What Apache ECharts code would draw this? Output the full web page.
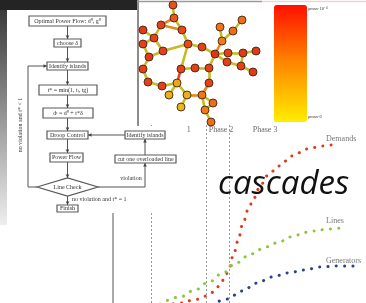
<!DOCTYPE html>
<html><head><meta charset="utf-8">
<script src="https://cdn.jsdelivr.net/npm/echarts@6/dist/echarts.min.js"></script>
<style>html,body{margin:0;padding:0;background:#fff}#c{width:366px;height:303px}</style>
</head><body><div id="c"></div>
<script>
// ---- cascade curves (x: time units 0..100, y: share 0..100) ----
const demandsX = [20.6, 26.5, 32.8, 36.8, 39.9, 42.3, 44.3, 45.9, 47.6, 49.4, 51.2, 53.4, 55.5, 57.8, 60.9, 65.6, 70.8, 76.7, 82.6, 86.2];
const demandsY = [-1.7, 0.0, 2.0, 3.9, 6.2, 10.1, 14.6, 19.7, 27.0, 34.8, 44.0, 52.3, 58.5, 64.5, 71.4, 77.0, 82.6, 86.5, 88.2, 88.8];
const linesX = [18.6, 26.5, 32.4, 37.9, 43.5, 48.6, 54.5, 60.5, 66.4, 72.3, 78.7, 85.4, 92.1];
const linesY = [-0.6, 3.4, 7.3, 11.8, 16.9, 22.5, 27.5, 31.5, 34.8, 38.2, 40.4, 41.6, 42.7];
const genX = [39.1, 45.1, 51.0, 56.9, 62.8, 69.2, 75.5, 81.8, 88.5, 94.9];
const genY = [-1.1, 2.2, 6.7, 11.2, 14.6, 16.9, 18.5, 20.2, 20.8, 20.8];
const curveNames = ['Demands', 'Lines', 'Generators'];
const curveLabelX = [84.2, 84.2, 84.2];
const curveLabelY = [92.1, 46.1, 23.6];
const phaseLabels = ['Phase 1', 'Phase 2', 'Phase 3'];
const phaseLabelX = [25.9, 42.7, 60.1];
const phaseLabelY = [97.2, 97.2, 97.2];
const phaseLineX = [15.0, 36.8, 45.8];

// ---- network (x,y in panel units, load 0..1) ----
const nodeX = [36,37,24,45,6,17,6,26,12,51,65,78,83,96,105,85,91,106,119,90,104,116,6,44,58,72,72,11,25,40,32,50,44,65,76,68,74];
const nodeY = [5,18,25,30,30,38,44,51,57,44,47,54,27,31,20,41,53,53,51,62,66,72,69,69,68,68,83,82,86,83,95,95,107,95,103,110,122];
const nodeLoad = [0.8,0.75,0.9,0.85,0.95,0.9,0.9,0.9,0.95,0.85,0.9,1.0,0.55,0.6,0.6,0.5,0.9,0.95,0.95,0.9,0.9,0.95,0.9,0.9,0.9,0.9,0.9,0.9,0.9,0.25,0.2,0.2,0.15,0.55,0.6,0.5,0.6];
const edgeFrom = [0,1,1,2,2,3,4,5,5,6,8,7,9,10,8,22,27,28,29,23,23,24,25,25,26,29,29,31,31,33,33,34,35,11,15,15,13,11,16,17,11,19,20,20];
const edgeTo   = [1,2,3,3,5,9,5,6,7,8,7,9,10,11,22,27,28,29,23,9,24,25,11,26,33,30,31,32,33,34,35,35,36,15,12,13,14,16,17,18,19,20,17,21];
const edgeLevel= [0,1,0,1,0,0,0,0,0,0,0,0,0,0,0,0,0,0,2,0,0,0,0,0,1,0,0,0,1,0,0,0,0,1,0,0,0,0,0,0,0,0,0,0];
const colorbarText = ['ρmax·10⁻⁴', 'ρmax·0'];

// ---- flowchart & decoration graphics ----
const G = [];
const SERIF = '"Liberation Serif", serif';
function rect(x, y, w, h, fill, z) { G.push({type:'rect', silent:true, z, shape:{x, y, width:w, height:h}, style:{fill}}); }
function txt(x, y, t, align, rot, size, z) {
  align = align || 'center';
  G.push({type:'text', silent:true, z: z || 13, x, y, rotation: rot || 0,
    style:{text:t, x:0, y:0, fill:'#333', font:(size||6)+'px ' + SERIF,
      align, verticalAlign:'middle', textAlign:align, textVerticalAlign:'middle'}});
}
function box(x1, y1, x2, y2, t) {
  G.push({type:'rect', silent:true, z:12, shape:{x:x1, y:y1, width:x2-x1, height:y2-y1},
    style:{fill:'#fff', stroke:'#5a5a5a', lineWidth:1.2}});
  txt((x1+x2)/2, (y1+y2)/2 + 0.3, t);
}
function line(pts, arrow) {
  G.push({type:'polyline', silent:true, z:11, shape:{points:pts}, style:{stroke:'#555', lineWidth:1, fill:null}});
  if (arrow) {
    const [x2, y2] = pts[pts.length-1], [x1, y1] = pts[pts.length-2];
    const a = Math.atan2(y2-y1, x2-x1), L = 3.5, W = 1.8;
    G.push({type:'polygon', silent:true, z:12, shape:{points:[[x2,y2],
      [x2-L*Math.cos(a)+W*Math.sin(a), y2-L*Math.sin(a)-W*Math.cos(a)],
      [x2-L*Math.cos(a)-W*Math.sin(a), y2-L*Math.sin(a)+W*Math.cos(a)]]}, style:{fill:'#444'}});
  }
}
// background pieces
rect(137, 0, 229, 126, '#fff', 1);
G.push({type:'polyline', silent:true, z:1, shape:{points:[[138,0],[138,126]]}, style:{stroke:'#8c8c8c', lineWidth:2}});
G.push({type:'polyline', silent:true, z:1, shape:{points:[[137,1.5],[262,1.5]]}, style:{stroke:'#9a9a9a', lineWidth:1.5}});
G.push({type:'polyline', silent:true, z:1, shape:{points:[[262,1.5],[366,1.5]]}, style:{stroke:'#f0d4d4', lineWidth:1.5}});
rect(0, 0, 137, 10, '#242424', 10);
G.push({type:'rect', silent:true, z:10, shape:{x:0, y:10, width:7, height:215},
  style:{fill:{type:'linear', x:0, y:0, x2:0, y2:1, colorStops:[{offset:0, color:'#3a3a3a'},{offset:0.6, color:'#a8a8a8'},{offset:1, color:'#eeeeee'}]}}});
rect(7, 10, 130, 203, '#fff', 10);
rect(137, 126, 49, 87, '#fff', 10);
// flowchart
box(29, 16, 106, 26, 'Optimal Power Flow: d⁰, g⁰');
line([[67.5,26],[67.5,39]], true);
box(54, 39, 81, 47, 'choose δ');
line([[67.5,47],[67.5,62]], true);
box(47, 62, 88, 70, 'Identify islands');
line([[67.5,70],[67.5,85]], true);
box(39, 85, 97, 95, 't* = min(1, tₗ, tg)');
line([[67.5,95],[67.5,108]], true);
box(43, 108, 93, 118, 'dᵗ = d⁰ + t*δ');
line([[67.5,118],[67.5,131]], true);
box(47, 131, 88, 139, 'Droop Control');
line([[67.5,139],[67.5,153]], true);
box(50, 153, 83, 162, 'Power Flow');
line([[67.5,162],[67.5,178]], true);
G.push({type:'polygon', silent:true, z:12, shape:{points:[[37,187],[67.5,178],[98,187],[67.5,196]]}, style:{fill:'#fff', stroke:'#5a5a5a', lineWidth:1.2}});
txt(67.5, 187.3, 'Line Check');
line([[67.5,196],[67.5,205]], true);
box(57, 205, 78, 212, 'Finish');
txt(72, 199, 'no violation and t* = 1', 'left');
line([[37,187],[28,187],[28,66],[47,66]], true);
txt(20, 125, 'no violation and t* < 1', 'center', Math.PI/2);
line([[98,187],[145,187],[145,163]], true);
box(115, 155, 176, 163, 'cut one overloaded line');
line([[145,155],[145,139]], true);
box(125, 131, 165, 139, 'Identify islands');
line([[125,135],[88,135]], true);
txt(131, 178, 'violation');
// colorbar labels
txt(308, 9, colorbarText[0], 'left', 0, 4.5, 5);
txt(308, 117, colorbarText[1], 'left', 0, 4.5, 5);
// annotation
G.push({type:'text', silent:true, z:20, x:218, y:185,
  style:{text:'cascades', x:0, y:0, font:'italic 33px "Open Sans"', fill:'#111', align:'left', verticalAlign:'middle', textAlign:'left', textVerticalAlign:'middle'}});

const zip = (a, b) => a.map((v, i) => [v, b[i]]);
const dotted = c => ({color:c, width:3, type:[0.1, 8.2], cap:'round'});
const edgeColors = ['#c3bc24', '#e8861c', '#e0401c'];

// node fill scale (same ramp as the colour bar, slightly deeper)
const nodeStops = [[0, [232, 210, 26]], [0.5, [240, 124, 24]], [1, [226, 50, 24]]];
function loadColor(v) {
  let i = 0;
  while (i < nodeStops.length - 2 && v > nodeStops[i+1][0]) i++;
  const [a, ca] = nodeStops[i], [b, cb] = nodeStops[i+1];
  const t = Math.max(0, Math.min(1, (v - a) / (b - a)));
  return 'rgb(' + ca.map((c, k) => Math.round(c + (cb[k] - c) * t)).join(',') + ')';
}

const option = {
  animation: false,
  backgroundColor: '#fff',
  grid: [
    {left:113, top:125, width:253, height:178},
    {left:137, top:0, width:130, height:125}
  ],
  xAxis: [
    {gridIndex:0, type:'value', min:0, max:100, show:false},
    {gridIndex:1, type:'value', min:0, max:130, show:false}
  ],
  yAxis: [
    {gridIndex:0, type:'value', min:0, max:100,
      axisLine:{show:true, onZero:false, lineStyle:{color:'#aaaaaa', width:2}},
      axisTick:{show:false}, axisLabel:{show:false}, splitLine:{show:false}},
    {gridIndex:1, type:'value', min:0, max:125, inverse:true, show:false}
  ],
  visualMap: {
    type:'continuous', min:0, max:1, seriesIndex:[],
    inRange:{color:['#ffee00', '#ff8800', '#ff1000']},
    left:274, top:5, itemWidth:33, itemHeight:117, padding:0,
    calculable:false, hoverLink:false, orient:'vertical'
  },
  graphic: {elements: G},
  series: [
    {name:curveNames[0], type:'line', xAxisIndex:0, yAxisIndex:0, data:zip(demandsX, demandsY),
      symbol:'none', smooth:0.4, smoothMonotone:'x', silent:true, z:3, lineStyle:dotted('#dd3b1c'),
      markLine:{silent:true, symbol:'none', label:{show:false},
        lineStyle:{color:'#9a9a9a', width:1, type:[2,2]},
        data: phaseLineX.map(v => ({xAxis:v}))}},
    {name:curveNames[1], type:'line', xAxisIndex:0, yAxisIndex:0, data:zip(linesX, linesY),
      symbol:'none', smooth:0.4, smoothMonotone:'x', silent:true, z:3, lineStyle:dotted('#8cc540')},
    {name:curveNames[2], type:'line', xAxisIndex:0, yAxisIndex:0, data:zip(genX, genY),
      symbol:'none', smooth:0.4, smoothMonotone:'x', silent:true, z:3, lineStyle:dotted('#2c3f8e')},
    {type:'graph', coordinateSystem:'cartesian2d', xAxisIndex:1, yAxisIndex:1,
      symbol:'circle', symbolSize:8, silent:true, z:3,
      data: nodeX.map((x, i) => ({value:[x, nodeY[i]], itemStyle:{color:loadColor(nodeLoad[i])}})),
      links: edgeFrom.map((s, i) => ({source:s, target:edgeTo[i], lineStyle:{color:edgeColors[edgeLevel[i]]}})),
      lineStyle:{width:2.6, opacity:1, curveness:0},
      itemStyle:{borderColor:'#4a2410', borderWidth:0.9},
      label:{show:false}, emphasis:{disabled:true}},
    {type:'scatter', xAxisIndex:0, yAxisIndex:0, symbolSize:0, silent:true, z:4,
      data: phaseLabels.map((n, i) => ({name:n, value:[phaseLabelX[i], phaseLabelY[i]]})),
      label:{show:true, position:'inside', formatter:p => p.name, color:'#444', fontFamily:'Liberation Serif', fontSize:8}},
    {type:'scatter', xAxisIndex:0, yAxisIndex:0, symbolSize:0, silent:true, z:4,
      data: curveNames.map((n, i) => ({name:n, value:[curveLabelX[i], curveLabelY[i]]})),
      label:{show:true, position:'right', distance:0, formatter:p => p.name, color:'#555', fontFamily:'Liberation Serif', fontSize:8}}
  ]
};
echarts.init(document.getElementById('c'), null, {renderer:'canvas'}).setOption(option);
</script>
</body></html>
